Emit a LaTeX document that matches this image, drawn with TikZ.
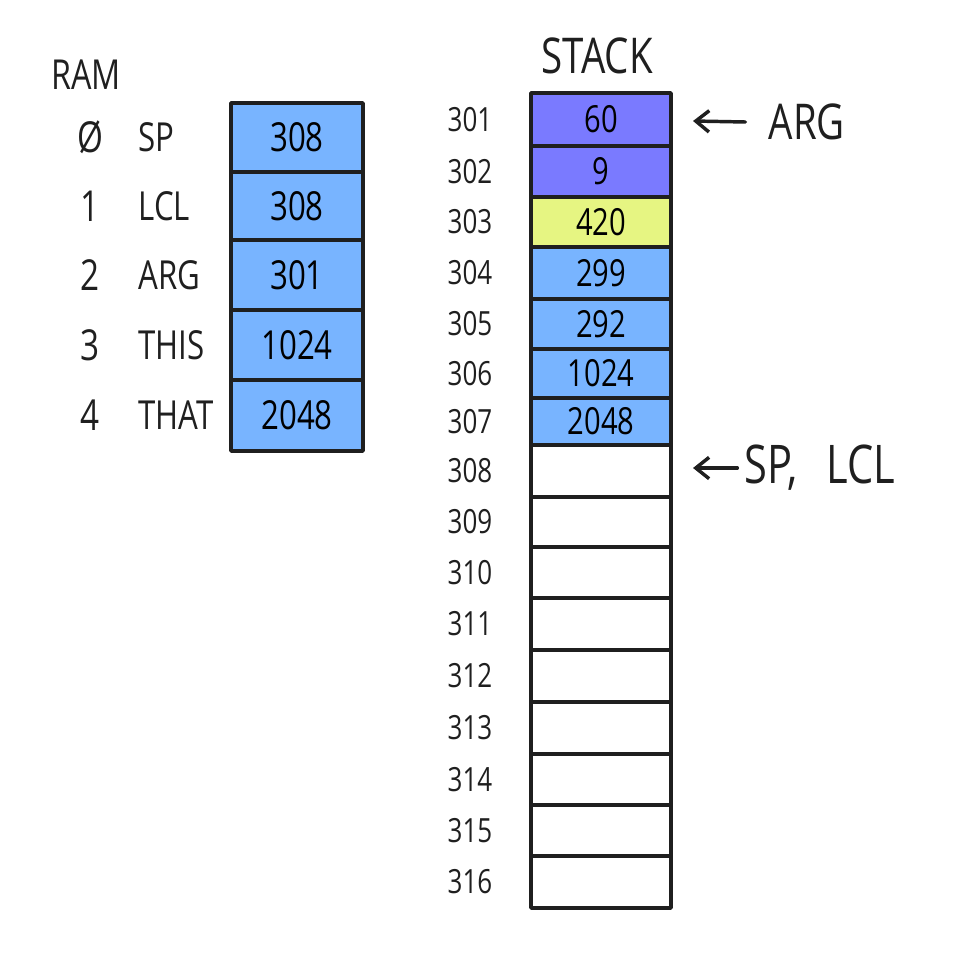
\documentclass[tikz,border=0pt]{standalone}
\usepackage{fontspec}
\setmainfont[FakeStretch=0.78]{Open Sans}
\usetikzlibrary{arrows.meta}
\definecolor{cblue}{RGB}{120,180,255}
\definecolor{cpurp}{RGB}{122,122,255}
\definecolor{cyel}{RGB}{230,245,130}
\begin{document}
\begin{tikzpicture}[x=0.75pt,y=-0.75pt,
  cell/.style={draw=black!88, line width=2.6pt, line join=round, inner sep=0pt, anchor=center},
  ramval/.style={font=\fontsize{30}{32}\selectfont},
  stval/.style={font=\fontsize{28}{30}\selectfont},
  stlab/.style={font=\fontsize{25}{27}\selectfont, text=black!88},
  big/.style={font=\fontsize{30}{32}\selectfont, text=black!88},
  ptr/.style={draw=black!88, line width=2.6pt, line cap=round, -{Straight Barb[length=10pt,width=16pt,line width=2.6pt]}}]
\useasboundingbox (0,0) rectangle (960,960);
% RAM
\node[big, font=\fontsize{31}{33}\selectfont] (ramtitle) at (86,75) {RAM};
\foreach \i/\a/\b/\v/\n/\m in {0/103/172/308/Ø/SP, 1/172/240/308/1/LCL, 2/240/310/301/2/ARG, 3/310/380/1024/3/THIS, 4/380/451/2048/4/THAT} {
  \pgfmathsetmacro\ym{(\a+\b)/2}
  \node[cell, fill=cblue, ramval, minimum width=99pt, minimum height={(\b-\a)*0.75pt}] (r\i) at (297,\ym) {\v};
  \node[big, font=\fontsize{32}{34}\selectfont] (ri\i) at (90,\ym) {\n};
  \node[big, anchor=west] (rn\i) at (134,\ym) {\m};
}
% STACK
\node[big, font=\fontsize{37}{39}\selectfont] (sttitle) at (597,56) {STACK};
\foreach \i/\a/\b/\c/\v/\l in {
  1/93/146/cpurp/60/301, 2/146/197/cpurp/9/302, 3/197/247/cyel/420/303,
  4/247/299/cblue/299/304, 5/299/349/cblue/292/305, 6/349/398/cblue/1024/306,
  7/398/445/cblue/2048/307, 8/445/497/white//308, 9/497/547/white//309,
  10/547/598/white//310, 11/598/650/white//311, 12/650/702/white//312,
  13/702/754/white//313, 14/754/805/white//314, 15/805/856/white//315,
  16/856/908/white//316} {
  \pgfmathsetmacro\ym{(\a+\b)/2}
  \node[cell, fill=\c, stval, minimum width=105pt, minimum height={(\b-\a)*0.75pt}] (s\i) at (601,\ym) {\v};
  \node[stlab] (sl\i) at (470,\ym) {\l};
}
% pointers
\node[big, font=\fontsize{37}{39}\selectfont, anchor=west] (argp) at (764,122) {ARG};
\coordinate (argtip) at (693,121);
\draw[ptr] ([xshift=-14pt]argp.west) -- (argtip);
\node[big, font=\fontsize{40}{42}\selectfont, anchor=west] (spp) at (740,468) {SP,\hspace{22pt}LCL};
\coordinate (sptip) at (693,468);
\draw[ptr] ([xshift=-2pt]spp.west) -- (sptip);
\end{tikzpicture}
\end{document}
